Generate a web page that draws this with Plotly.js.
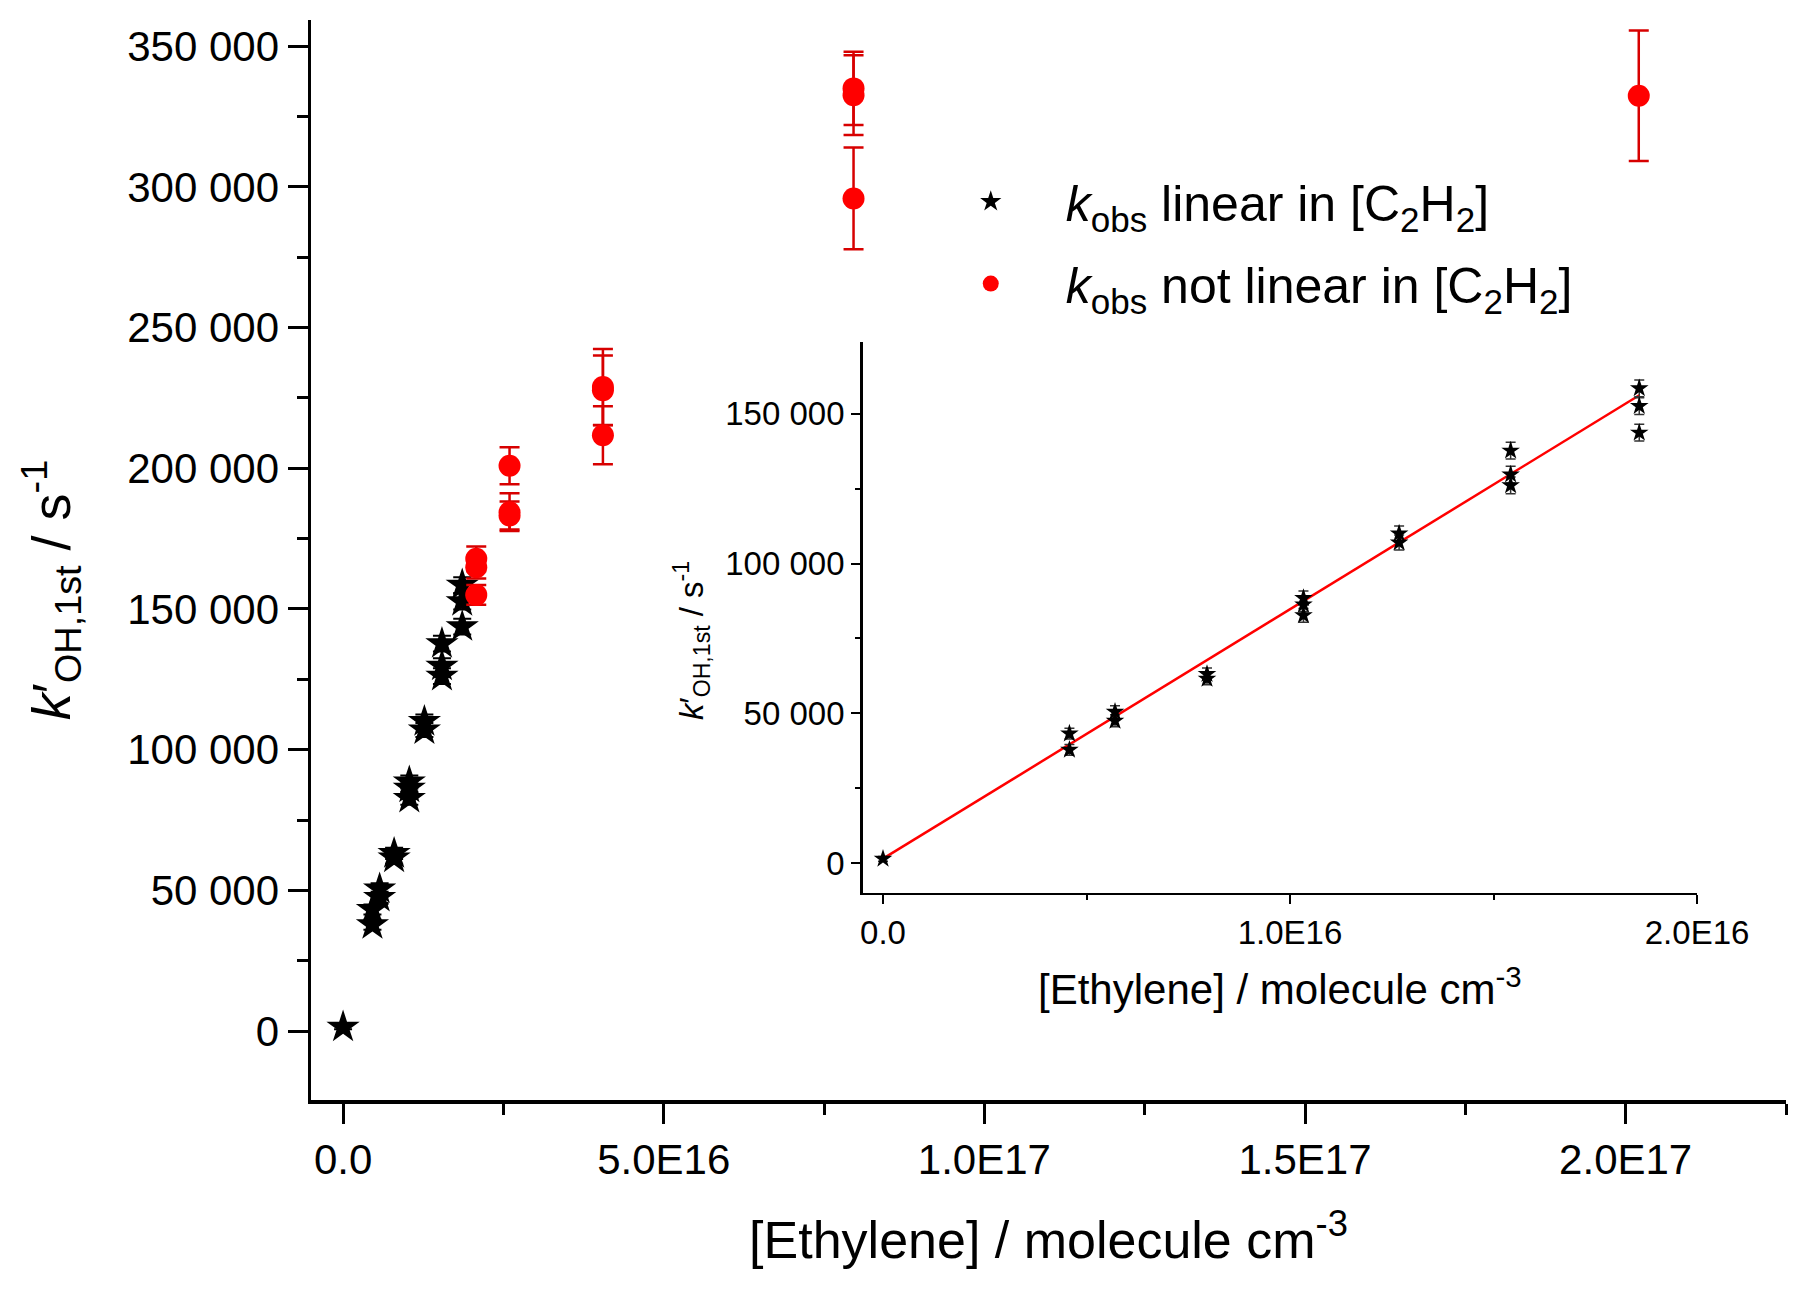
<!DOCTYPE html>
<html>
<head>
<meta charset="utf-8">
<script src="https://cdn.plot.ly/plotly-3.0.1.min.js"></script>
<style>
  body { margin: 0; background: #fff; }
  #chart { width: 1812px; height: 1290px; }
</style>
</head>
<body>
<div id="chart"></div>
<script>
// k'OH,1st vs [ethylene], points where kobs is linear in [C2H2]
const starX = [0, 4.58e15, 4.58e15, 5.70e15, 5.70e15, 7.96e15, 7.96e15,
  1.033e16, 1.033e16, 1.033e16, 1.268e16, 1.268e16,
  1.542e16, 1.542e16, 1.542e16, 1.858e16, 1.858e16, 1.858e16];
const starY = [1400, 43200, 37800, 50500, 47500, 63100, 61500,
  88500, 86300, 82700, 110000, 107000,
  137700, 129700, 126100, 158500, 152600, 143700];
const starErr = [800, 1800, 1800, 2000, 2000, 2000, 2000,
  2300, 2300, 2300, 2500, 2500,
  2800, 2800, 2800, 2800, 2800, 2800];

// points where kobs is not linear in [C2H2]
const redX = [2.077e16, 2.077e16, 2.077e16, 2.596e16, 2.596e16, 2.596e16,
  4.052e16, 4.052e16, 4.052e16, 7.96e16, 7.96e16, 7.96e16, 2.0204e17];
const redY = [167800, 164800, 155000, 200900, 184400, 183200,
  228900, 227700, 211700, 335000, 332600, 295900, 332400];
const redErr = [4400, 4000, 3500, 6600, 6700, 5000,
  13500, 12400, 10300, 13000, 14200, 18100, 23200];

// linear fit drawn in the inset
const fitX = [0, 1.858e16];
const fitY = [1450, 156200];

const mainXTicks = [0, 5e16, 1e17, 1.5e17, 2e17];
const mainXLabels = ['0.0', '5.0E16', '1.0E17', '1.5E17', '2.0E17'];
const mainXMinor = [2.5e16, 7.5e16, 1.25e17, 1.75e17, 2.25e17];
const insetXTicks = [0, 1e16, 2e16];
const insetXLabels = ['0.0', '1.0E16', '2.0E16'];
const insetXMinor = [5e15, 1.5e16];

const FONT = 'Liberation Sans, Arial, sans-serif';
// trailing spaces push the rotated titles a little below the axis middle
const yTitle = '<i>k</i>′<sub>OH,1st</sub> / s<sup>-1</sup>&nbsp;&nbsp;&nbsp;&nbsp;';
const yTitleInset = '<i>k</i>′<sub>OH,1st</sub> / s<sup>-1</sup>&nbsp;&nbsp;&nbsp;&nbsp;&nbsp;';
const xTitle = '[Ethylene] / molecule cm<sup>-3</sup>';

const traces = [
  {
    x: starX, y: starY, xaxis: 'x', yaxis: 'y',
    type: 'scatter', mode: 'markers', legendgroup: 'lin',
    name: '<i>k</i><sub>obs</sub> linear in [C<sub>2</sub>H<sub>2</sub>]',
    marker: {symbol: 'star', size: 25, color: 'black'},
    error_y: {type: 'data', array: starErr, visible: true,
      color: 'black', thickness: 2, width: 9}
  },
  {
    x: redX, y: redY, xaxis: 'x', yaxis: 'y',
    type: 'scatter', mode: 'markers', legendgroup: 'nonlin',
    name: '<i>k</i><sub>obs</sub> not linear in [C<sub>2</sub>H<sub>2</sub>]',
    marker: {symbol: 'circle', size: 22, color: 'rgb(255,0,0)'},
    error_y: {type: 'data', array: redErr, visible: true,
      color: 'rgb(215,0,0)', thickness: 2.5, width: 10}
  },
  {
    x: fitX, y: fitY, xaxis: 'x2', yaxis: 'y2',
    type: 'scatter', mode: 'lines', showlegend: false,
    line: {color: 'rgb(255,0,0)', width: 2.5}
  },
  {
    x: starX, y: starY, xaxis: 'x2', yaxis: 'y2',
    type: 'scatter', mode: 'markers', showlegend: false,
    marker: {symbol: 'star', size: 14, color: 'black'},
    error_y: {type: 'data', array: starErr, visible: true,
      color: '#333', thickness: 1.5, width: 5}
  }
];

const layout = {
  width: 1812,
  height: 1290,
  paper_bgcolor: 'white',
  plot_bgcolor: 'rgba(0,0,0,0)',
  separators: '. ',
  font: {family: FONT, color: 'black'},
  margin: {l: 311, r: 26, t: 20, b: 190},
  showlegend: true,
  legend: {
    x: 0.41, y: 0.868, xanchor: 'left', yanchor: 'top',
    bgcolor: 'rgba(0,0,0,0)',
    font: {size: 50, family: FONT},
    itemwidth: 140,
    traceorder: 'grouped',
    tracegroupgap: 14
  },
  xaxis: {
    domain: [0, 1], anchor: 'y',
    range: [-5e15, 2.25e17],
    tickmode: 'array', tickvals: mainXTicks, ticktext: mainXLabels,
    ticks: 'outside', ticklen: 20, tickwidth: 3, tickcolor: 'black',
    minor: {tickmode: 'array', tickvals: mainXMinor, ticks: 'outside',
      ticklen: 11, tickwidth: 3, tickcolor: 'black'},
    showline: true, linewidth: 3.5, linecolor: 'black',
    showgrid: false, zeroline: false,
    tickfont: {size: 42},
    title: {text: xTitle, font: {size: 52}, standoff: 40}
  },
  yaxis: {
    domain: [0, 1], anchor: 'x',
    range: [-24500, 359300],
    tickmode: 'linear', tick0: 0, dtick: 50000, tickformat: ',d',
    ticks: 'outside', ticklen: 20, tickwidth: 3, tickcolor: 'black',
    minor: {dtick: 25000, ticks: 'outside', ticklen: 11, tickwidth: 3,
      tickcolor: 'black'},
    showline: true, linewidth: 3.5, linecolor: 'black',
    showgrid: false, zeroline: false,
    tickfont: {size: 42},
    title: {text: yTitle, font: {size: 54}, standoff: 40}
  },
  xaxis2: {
    domain: [0.374, 0.9397], anchor: 'y2',
    range: [-5e14, 2e16],
    tickmode: 'array', tickvals: insetXTicks, ticktext: insetXLabels,
    ticks: 'outside', ticklen: 9, tickwidth: 2, tickcolor: 'black',
    minor: {tickmode: 'array', tickvals: insetXMinor, ticks: 'outside',
      ticklen: 5, tickwidth: 2, tickcolor: 'black'},
    showline: true, linewidth: 2.5, linecolor: 'black',
    showgrid: false, zeroline: false,
    tickfont: {size: 33},
    title: {text: xTitle, font: {size: 42}, standoff: 25}
  },
  yaxis2: {
    domain: [0.1917, 0.7019], anchor: 'x2',
    range: [-10000, 174000],
    tickmode: 'linear', tick0: 0, dtick: 50000, tickformat: ',d',
    ticks: 'outside', ticklen: 9, tickwidth: 2, tickcolor: 'black',
    minor: {dtick: 25000, ticks: 'outside', ticklen: 5, tickwidth: 2,
      tickcolor: 'black'},
    showline: true, linewidth: 2.5, linecolor: 'black',
    showgrid: false, zeroline: false,
    tickfont: {size: 33},
    title: {text: yTitleInset, font: {size: 33}, standoff: 12}
  }
};

Plotly.newPlot('chart', traces, layout, {staticPlot: true});
</script>
</body>
</html>
